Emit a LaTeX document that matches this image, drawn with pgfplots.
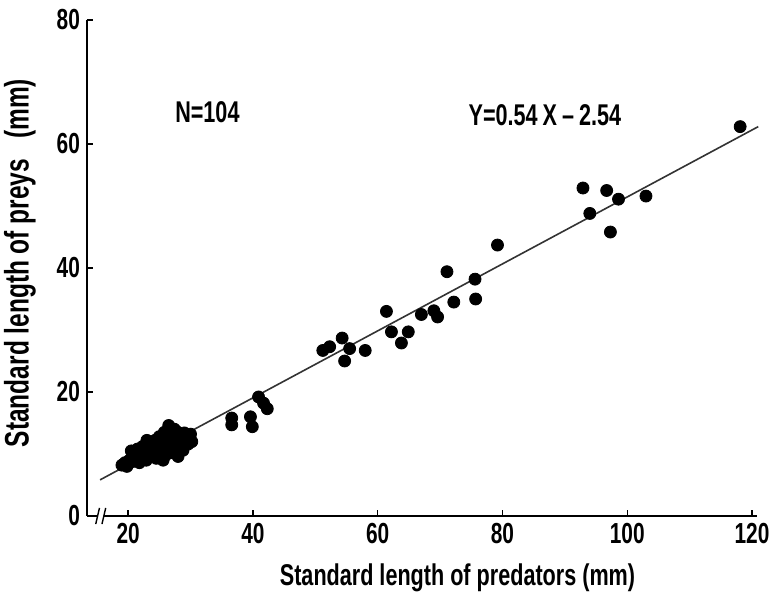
\documentclass[border=0pt]{standalone}
\usepackage{pgfplots}
\pgfplotsset{compat=1.18}
\usepackage{fontspec}
\setmainfont{Liberation Sans}[FakeStretch=0.72]
\begin{document}
\begin{tikzpicture}
\begin{axis}[
  scale only axis, width=335pt, height=248pt,
  xmin=13.4, xmax=120.8, ymin=0, ymax=80,
  axis lines=left, axis line style={-, line width=0.8pt},
  xtick={20,40,60,80,100,120}, ytick={0,20,40,60,80},
  tick align=inside, major tick length=3pt, tick style={line width=0.7pt, black},
  /pgf/number format/assume math mode=true,
  ticklabel style={font=\fontsize{14.5}{16}\selectfont\bfseries},
  xlabel={Standard length of predators (mm)},
  ylabel={Standard length of preys\hspace{10pt}(mm)},
  xlabel style={font=\fontsize{15}{17}\selectfont\bfseries, at={(axis description cs:0.553,-0.125)}, anchor=center},
  ylabel style={font=\fontsize{17}{19}\selectfont\bfseries, at={(axis description cs:-0.1,0.51)}, anchor=center},
  clip=false,
]
\addplot[only marks, mark=*, mark size=3pt, black] coordinates {
(19.0,8.2)(19.5,8.6)(19.8,8.0)(20.2,9.0)(20.5,10.5)(20.8,8.8)(21.2,9.5)(21.5,10.8)
(21.8,8.6)(22.0,9.8)(22.3,11.2)(22.6,10.2)(22.9,9.0)(23.2,10.8)(23.5,9.6)(23.8,11.5)
(24.0,10.0)(24.3,12.2)(24.5,9.3)(24.8,11.0)(25.0,12.8)(25.2,10.4)(25.5,11.8)(25.8,13.5)
(26.0,9.8)(26.2,12.4)(26.5,14.6)(26.7,11.2)(27.0,13.0)(27.2,10.2)(27.5,12.0)(27.8,13.6)
(28.0,9.6)(28.3,11.4)(28.5,12.8)(28.8,10.6)(29.0,13.4)(29.3,12.2)(29.6,11.6)(30.0,13.2)
(30.2,12.0)(23.0,12.2)(21.0,10.0)(25.6,9.0)(27.4,14.0)
(36.6,15.8)(36.6,14.7)(39.6,16.0)(39.9,14.4)(40.9,19.2)(41.7,18.2)(42.3,17.3)
(51.2,26.7)(52.3,27.3)(54.3,28.7)(54.7,25.0)(55.5,27.0)(58.0,26.7)
(61.4,33.0)(62.2,29.7)(63.8,27.9)(64.9,29.7)(67.0,32.5)(69.0,33.1)(69.6,32.1)
(71.1,39.4)(72.2,34.5)(75.6,38.2)(75.7,35.0)(79.2,43.7)
(92.9,52.9)(94.0,48.8)(96.7,52.5)(97.3,45.8)(98.6,51.1)(103.0,51.6)(118.1,62.8)
};
\addplot[no marks, line width=0.8pt, black!80] coordinates {(15.5,5.83)(121,62.8)};
\node[font=\fontsize{15}{17}\selectfont\bfseries] at (axis cs:32.7,65.2) {N=104};
\node[font=\fontsize{15}{17}\selectfont\bfseries] at (axis cs:86.8,64.7) {Y=0.54\,X\,--\,2.54};
% axis break
\fill[white] (axis cs:15.0,-1) rectangle (axis cs:16.2,1);
\draw[line width=0.7pt] (axis cs:14.8,-1.3) -- (axis cs:15.4,1.3);
\draw[line width=0.7pt] (axis cs:15.8,-1.3) -- (axis cs:16.4,1.3);
\coordinate (SW) at (rel axis cs:0,0);
\end{axis}
\pgfresetboundingbox
\useasboundingbox (SW) ++(-43.5pt,-38pt) rectangle ++(385pt,296pt);
\end{tikzpicture}
\end{document}
